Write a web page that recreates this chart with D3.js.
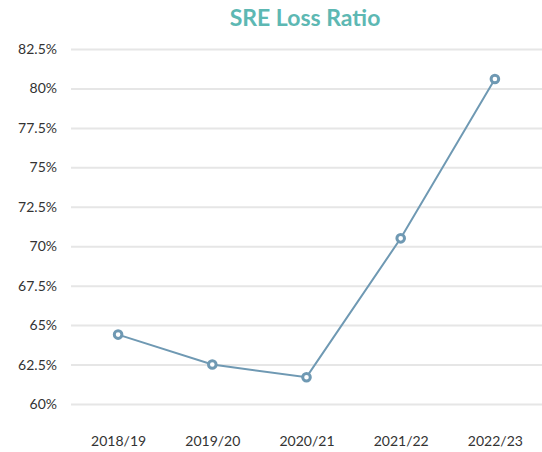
<!DOCTYPE html>
<html lang="en">
<head>
    <meta charset="utf-8">
    <title>SRE Loss Ratio</title>
    <script src="https://d3js.org/d3.v7.min.js"></script>
    <style>
        body { margin: 0; background: #fff; }
        svg { display: block; font-family: Lato, sans-serif; }
    </style>
</head>
<body>
<svg class="lossChart"></svg>
<script>
    // chart data
    const years = ["2018/19", "2019/20", "2020/21", "2021/22", "2022/23"];
    const lossRatio = [64.4, 62.5, 61.7, 70.5, 80.6];
    const yTicks = [60, 62.5, 65, 67.5, 70, 72.5, 75, 77.5, 80, 82.5];

    let w = 542, h = 452;
    let plotLeft = 71, plotRight = 542, plotTop = 49, plotBottom = 404;

    let svg = d3.select(".lossChart")
        .attr("width", w)
        .attr("height", h);

    let x = d3.scalePoint()
        .domain(years)
        .range([plotLeft, plotRight])
        .padding(0.5);

    let y = d3.scaleLinear()
        .domain([60, 82.5])
        .range([plotBottom, plotTop]);

    // title
    svg.append("text")
        .attr("x", 305)
        .attr("y", 26)
        .attr("text-anchor", "middle")
        .attr("fill", "#5db8b3")
        .attr("font-size", "23px")
        .attr("font-weight", "bold")
        .text("SRE Loss Ratio");

    // y axis with gridlines
    let yAxis = d3.axisLeft(y)
        .tickValues(yTicks)
        .tickSize(-(plotRight - plotLeft))
        .tickPadding(14)
        .tickFormat(d => d + "%");

    let yg = svg.append("g")
        .attr("transform", "translate(" + plotLeft + ",0)")
        .call(yAxis);
    yg.select(".domain").remove();
    yg.selectAll(".tick line")
        .attr("stroke", "#e6e6e6")
        .attr("stroke-width", 2);
    yg.selectAll(".tick text")
        .attr("fill", "#333")
        .attr("font-size", "14px")
        .attr("font-family", "Lato, sans-serif");

    // x axis
    let xAxis = d3.axisBottom(x).tickSize(0).tickPadding(0);
    let xg = svg.append("g")
        .attr("transform", "translate(0,436)")
        .call(xAxis);
    xg.select(".domain").remove();
    xg.selectAll(".tick text")
        .attr("fill", "#333")
        .attr("font-size", "14px")
        .attr("font-family", "Lato, sans-serif");

    // line
    let pts = years.map((d, i) => ({ year: d, value: lossRatio[i] }));
    let line = d3.line()
        .x(d => x(d.year))
        .y(d => y(d.value));

    svg.append("path")
        .datum(pts)
        .attr("d", line)
        .attr("fill", "none")
        .attr("stroke", "#6f99b3")
        .attr("stroke-width", 2);

    svg.selectAll("circle.pt")
        .data(pts)
        .enter().append("circle")
        .attr("class", "pt")
        .attr("cx", d => x(d.year))
        .attr("cy", d => y(d.value))
        .attr("r", 3.8)
        .attr("fill", "#fff")
        .attr("stroke", "#6f99b3")
        .attr("stroke-width", 3);
</script>
</body>
</html>
